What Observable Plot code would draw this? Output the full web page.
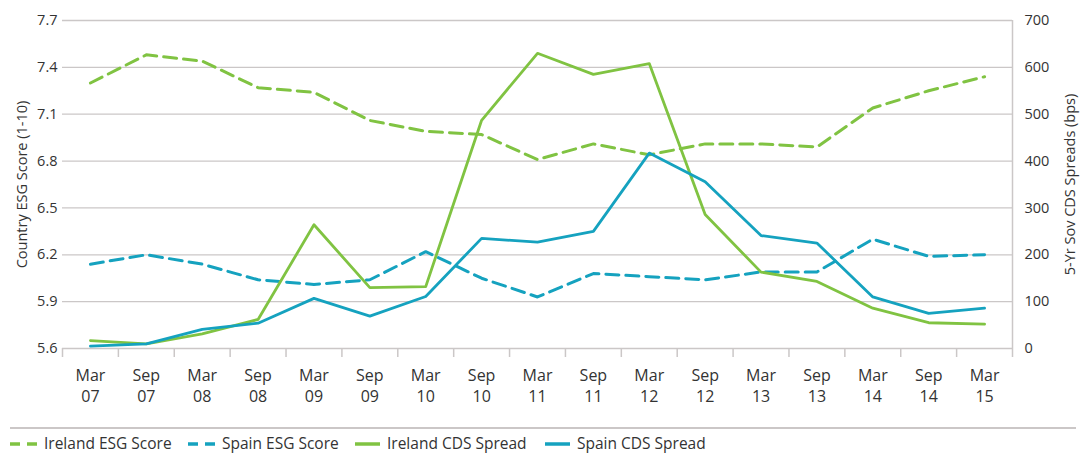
<!DOCTYPE html>
<html>
<head>
<meta charset="utf-8">
<script src="https://cdn.jsdelivr.net/npm/d3@7"></script>
<script src="https://cdn.jsdelivr.net/npm/@observablehq/plot@0.6"></script>
<style>
  body { margin: 0; background: #fff; font-family: "Open Sans", sans-serif; }
  #chart { width: 1089px; }
  #chart svg { display: block; }
</style>
</head>
<body>
<div id="chart"></div>
<script>
const periods = ["Mar\n07","Sep\n07","Mar\n08","Sep\n08","Mar\n09","Sep\n09","Mar\n10","Sep\n10","Mar\n11","Sep\n11","Mar\n12","Sep\n12","Mar\n13","Sep\n13","Mar\n14","Sep\n14","Mar\n15"];
const irelandEsg = [7.30, 7.48, 7.44, 7.27, 7.24, 7.06, 6.99, 6.97, 6.81, 6.91, 6.84, 6.91, 6.91, 6.89, 7.14, 7.25, 7.34];
const spainEsg   = [6.14, 6.20, 6.14, 6.04, 6.01, 6.04, 6.22, 6.05, 5.93, 6.08, 6.06, 6.04, 6.09, 6.09, 6.30, 6.19, 6.20];
const irelandCds = [17, 10, 31, 62, 264, 130, 132, 487, 630, 585, 608, 286, 163, 143, 86, 55, 52];
const spainCds   = [5, 10, 41, 54, 107, 69, 111, 235, 227, 250, 417, 356, 241, 225, 110, 75, 86];
const esgTicks = [5.6, 5.9, 6.2, 6.5, 6.8, 7.1, 7.4, 7.7];
const cdsTicks = [0, 100, 200, 300, 400, 500, 600, 700];
const legendLabels = ["Ireland ESG Score", "Spain ESG Score", "Ireland CDS Spread", "Spain CDS Spread"];

const green = "#80c342", blue = "#15a2bf", grid = "#cbc7c7", text = "#333";
const esgMin = 5.6, esgMax = 7.7, cdsMax = 700;
const cdsToEsg = v => esgMin + v * (esgMax - esgMin) / cdsMax;
const esgToCds = v => (v - esgMin) * cdsMax / (esgMax - esgMin);

const rows = (vals, conv) => vals.map((v, i) => ({i, v: conv ? conv(v) : v}));
const idx = periods.map((_, i) => i);
const boundaries = [-0.5, ...idx.map(i => i + 0.5)];

const chart = Plot.plot({
  width: 1089,
  height: 422,
  marginLeft: 62,
  marginRight: 77,
  marginTop: 20,
  marginBottom: 74,
  style: {fontFamily: "Open Sans, sans-serif", fontSize: "14px", color: text},
  x: {type: "linear", domain: [-0.5, periods.length - 0.5], axis: null, label: null},
  y: {domain: [esgMin, esgMax], axis: null},
  marks: [
    Plot.gridY(esgTicks, {stroke: grid, strokeOpacity: 1, strokeWidth: 1.3}),
    Plot.axisX(boundaries, {tickSize: 9, tickFormat: () => "", stroke: grid, strokeWidth: 1.5, label: null}),
    Plot.ruleX([periods.length - 0.5], {stroke: grid, strokeWidth: 1.5}),
    Plot.axisX(idx, {tickSize: 0, tickPadding: 18, tickFormat: i => periods[i], fontSize: 16, lineHeight: 1.28, fill: text, label: null}),
    Plot.axisY(esgTicks, {anchor: "left", tickSize: 0, tickPadding: 5, tickFormat: d => d.toFixed(1), fontSize: 14.5, fill: text,
      label: "Country ESG Score (1-10)", labelAnchor: "center", labelOffset: 46, labelArrow: false}),
    Plot.axisY(cdsTicks.map(cdsToEsg), {anchor: "right", tickSize: 0, tickPadding: 12, tickFormat: d => String(Math.round(esgToCds(d))), fontSize: 14.5, fill: text,
      label: "5-Yr Sov CDS Spreads (bps)", labelAnchor: "center", labelOffset: 62, labelArrow: false}),
    Plot.line(rows(irelandEsg), {x: "i", y: "v", stroke: green, strokeWidth: 3, strokeDasharray: "13,7"}),
    Plot.line(rows(spainEsg), {x: "i", y: "v", stroke: blue, strokeWidth: 3, strokeDasharray: "13,7"}),
    Plot.line(rows(irelandCds, cdsToEsg), {x: "i", y: "v", stroke: green, strokeWidth: 2.8}),
    Plot.line(rows(spainCds, cdsToEsg), {x: "i", y: "v", stroke: blue, strokeWidth: 2.8})
  ]
});
const root = document.getElementById("chart");
root.appendChild(chart);

// legend below the chart
const legendSpec = [
  {color: green, dashed: true, x: 10},
  {color: blue, dashed: true, x: 188},
  {color: green, dashed: false, x: 355},
  {color: blue, dashed: false, x: 545}
];
const lg = d3.create("svg").attr("width", 1089).attr("height", 35).style("display", "block")
  .style("font-family", "Open Sans, sans-serif");
lg.append("line").attr("x1", 10).attr("x2", 1076).attr("y1", 6).attr("y2", 6)
  .attr("stroke", grid).attr("stroke-width", 2);
legendSpec.forEach((s, k) => {
  const g = lg.append("g").attr("transform", `translate(${s.x},22)`);
  g.append("line").attr("x1", 0).attr("x2", s.dashed ? 28 : 25).attr("y1", 0).attr("y2", 0)
    .attr("stroke", s.color).attr("stroke-width", 3.5)
    .attr("stroke-dasharray", s.dashed ? "10,7" : null);
  g.append("text").attr("x", s.dashed ? 34 : 32).attr("y", 0).attr("dy", "0.35em")
    .attr("fill", text).attr("font-size", 15.5).text(legendLabels[k]);
});
root.appendChild(lg.node());
</script>
</body>
</html>
